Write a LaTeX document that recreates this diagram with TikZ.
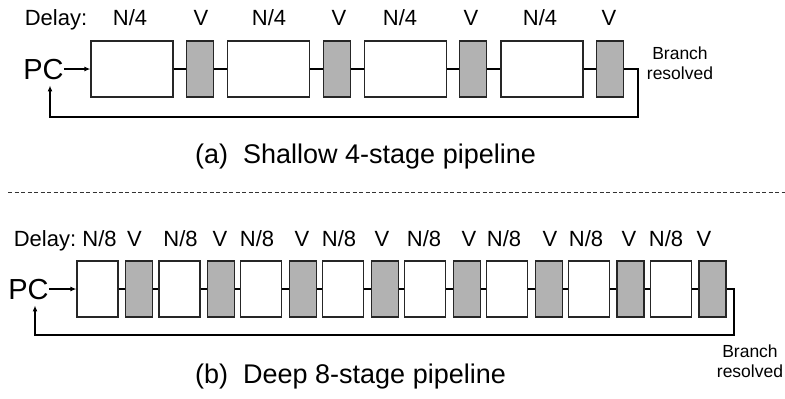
\documentclass[tikz,border=0pt]{standalone}
\usepackage{fontspec}
\setmainfont{Liberation Sans}
\usetikzlibrary{arrows.meta,calc}
\begin{document}
\begin{tikzpicture}[x=1pt,y=-1pt,
  stage/.style={draw=black!85,line width=1.2pt,fill=white,inner sep=0pt,minimum height=56pt},
  latch/.style={draw=black!85,line width=1.2pt,fill=black!30,inner sep=0pt,minimum width=27pt,minimum height=56pt},
  link/.style={line width=1.4pt},
  fb/.style={line width=2pt,-{Latex[length=6pt,width=5pt]}},
  inarrow/.style={line width=1.6pt,-{Latex[length=6pt,width=5pt]}},
  lbl/.style={font=\fontsize{22}{26}\selectfont,inner sep=0pt,anchor=base},
  pc/.style={font=\fontsize{29}{32}\selectfont,inner sep=0pt,anchor=base},
  captext/.style={font=\fontsize{27}{32}\selectfont,inner sep=0pt,anchor=base west},
  note/.style={font=\fontsize{17.5}{20}\selectfont,inner sep=0pt,align=center},
  sep/.style={line width=1pt,draw=black!80,dash pattern=on 4pt off 2.5pt}]
\useasboundingbox (0,0) rectangle (785,399);

% ---------- (a) shallow pipeline ----------
\node[lbl] (a-delay) at (56,25) {Delay:};
\foreach \x [count=\i] in {130,269,400,540}{\node[lbl] (a-n\i) at (\x,25) {N/4};}
\foreach \x [count=\i] in {201,339,471,609}{\node[lbl] (a-vl\i) at (\x,25) {V};}

\foreach \i in {1,...,4}{
  \pgfmathsetmacro{\sx}{132+136.67*(\i-1)}
  \pgfmathsetmacro{\vx}{200+136.67*(\i-1)}
  \node[stage,minimum width=82pt] (a-s\i) at (\sx,69) {};
  \node[latch] (a-v\i) at (\vx,69) {};
}
\foreach \i in {1,...,4}{\draw[link] (a-s\i.east) -- (a-v\i.west);}
\foreach \i [evaluate=\i as \j using int(\i+1)] in {1,2,3}{\draw[link] (a-v\i.east) -- (a-s\j.west);}

\node[pc] (a-pc) at (43.5,79) {PC};
\draw[inarrow] (a-pc.east) -- (a-pc.east -| a-s1.west);
\coordinate (a-fb) at (50,117);
\draw[fb] (a-v4.east) -- ++(14,0) |- (a-fb) -- ($(a-pc.south -| a-fb)+(0,6)$);
\node[note] (a-br) at (680,63.5) {Branch\\resolved};

\node[captext] (a-cap) at (195,163) {(a)~~Shallow 4-stage pipeline};

\draw[sep] (8,192) -- (785,192);

% ---------- (b) deep pipeline ----------
\node[lbl] (b-delay) at (45,246) {Delay:};
\foreach \x [count=\i] in {99.5,180.5,257,339,424,504,586,666}{\node[lbl] (b-n\i) at (\x,246) {N/8};}
\foreach \x [count=\i] in {134.5,220,302,382,469,550,629,704}{\node[lbl] (b-vl\i) at (\x,246) {V};}

\foreach \i in {1,...,8}{
  \pgfmathsetmacro{\sx}{97.5+81.93*(\i-1)}
  \pgfmathsetmacro{\vx}{139+81.93*(\i-1)}
  \node[stage,minimum width=41pt] (b-s\i) at (\sx,289) {};
  \node[latch] (b-v\i) at (\vx,289) {};
}
\foreach \i in {1,...,8}{\draw[link] (b-s\i.east) -- (b-v\i.west);}
\foreach \i [evaluate=\i as \j using int(\i+1)] in {1,...,7}{\draw[link] (b-v\i.east) -- (b-s\j.west);}

\node[pc] (b-pc) at (28.5,299) {PC};
\draw[inarrow] (b-pc.east) -- (b-pc.east -| b-s1.west);
\coordinate (b-fb) at (35,335);
\draw[fb] (b-v8.east) -- ++(7,0) |- (b-fb) -- ($(b-pc.south -| b-fb)+(0,6)$);
\node[note] (b-br) at (750,361.5) {Branch\\resolved};

\node[captext] (b-cap) at (195,383) {(b)~~Deep 8-stage pipeline};
\end{tikzpicture}
\end{document}
